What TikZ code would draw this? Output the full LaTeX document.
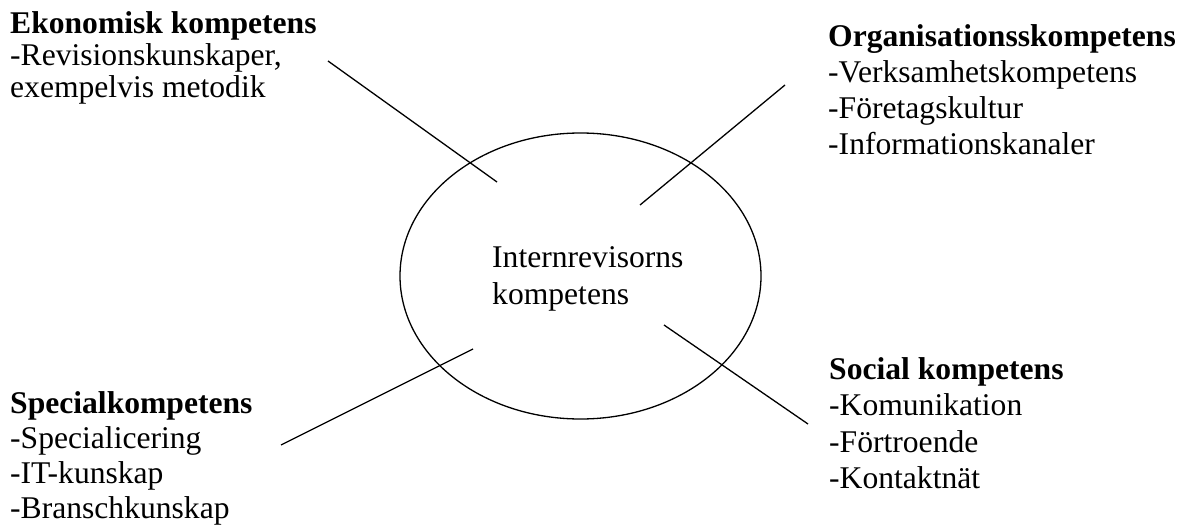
\documentclass[tikz,border=0pt]{standalone}
\usepackage{fontspec}
\setmainfont{Liberation Serif}
\usetikzlibrary{shapes.geometric}
\begin{document}
\begin{tikzpicture}[x=1pt,y=-1pt,
  txt/.style={anchor=base west,inner sep=0pt,align=left,font=\fontsize{31.6}{#1}\selectfont},
  txt/.default=35,
  conn/.style={line width=1.3pt,black}]
\useasboundingbox (0,0) rectangle (1190,529);
\node[draw,line width=1.3pt,ellipse,minimum width=361pt,minimum height=286pt,inner sep=0pt] (core) at (580.5,276) {};
\node[txt=37] (center) at (492,304) {Internrevisorns\\kompetens};
\node[txt=32] (eko) at (10,98) {\textbf{Ekonomisk kompetens}\\-Revisionskunskaper,\\exempelvis metodik};
\node[txt=36] (org) at (828,155) {\textbf{Organisationsskompetens}\\-Verksamhetskompetens\\-Företagskultur\\-Informationskanaler};
\node[txt=36.5] (soc) at (829,488.5) {\textbf{Social kompetens}\\-Komunikation\\-Förtroende\\-Kontaktnät};
\node[txt=35] (spe) at (10,518) {\textbf{Specialkompetens}\\-Specialicering\\-IT-kunskap\\-Branschkunskap};
\coordinate (a1) at (328,61);  \coordinate (b1) at (497,182);
\coordinate (a2) at (785,85);  \coordinate (b2) at (640,205);
\coordinate (a3) at (281,445); \coordinate (b3) at (473,349);
\coordinate (a4) at (808,424); \coordinate (b4) at (664,325);
\draw[conn] (a1) -- (b1);
\draw[conn] (a2) -- (b2);
\draw[conn] (a3) -- (b3);
\draw[conn] (a4) -- (b4);
\end{tikzpicture}
\end{document}
